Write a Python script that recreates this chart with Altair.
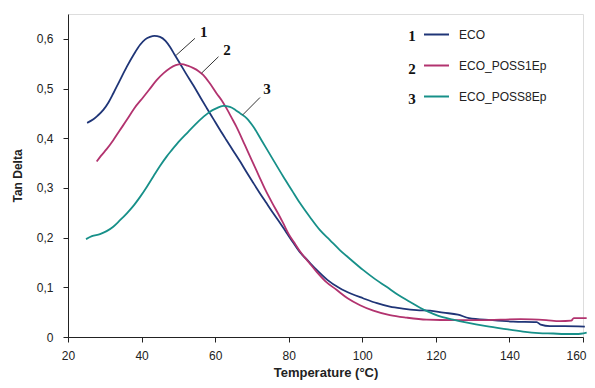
import altair as alt
import pandas as pd

series_names = ["ECO", "ECO_POSS1Ep", "ECO_POSS8Ep"]
series_colors = ["#1f3577", "#b2336f", "#179089"]

eco_T = [25.2, 26.9, 28.0, 29.6, 31.0, 32.3, 34.0, 36.0, 38.0, 39.6, 41.0, 42.3, 43.5, 45.0, 46.5, 47.7,
         49.0, 50.4, 52.0, 54.1, 56.0, 57.7, 59.5, 61.3, 63.0, 64.9, 66.8, 68.6, 70.3, 72.2, 74.0, 75.8,
         77.6, 79.4, 81.2, 83.1, 84.9, 87.6, 90.5, 93.9, 97.0, 100.2, 104.0, 107.5, 111.0, 114.8, 118.4,
         122.0, 126.0, 129.0, 135.0, 141.0, 147.4, 148.5, 151.0, 155.0, 160.5]
eco_v = [0.431, 0.438, 0.445, 0.457, 0.472, 0.490, 0.515, 0.544, 0.570, 0.588, 0.599, 0.604, 0.606, 0.604,
         0.596, 0.584, 0.568, 0.551, 0.531, 0.506, 0.482, 0.461, 0.439, 0.417, 0.397, 0.375, 0.353, 0.331,
         0.311, 0.289, 0.269, 0.249, 0.230, 0.210, 0.190, 0.170, 0.156, 0.135, 0.115, 0.098, 0.087, 0.078,
         0.068, 0.061, 0.057, 0.054, 0.053, 0.049, 0.045, 0.038, 0.034, 0.031, 0.030, 0.025, 0.022, 0.022,
         0.021]

p1_T = [27.8, 29.0, 30.5, 32.3, 34.0, 36.0, 38.0, 40.5, 42.0, 44.1, 46.0, 47.7, 49.3, 50.9, 52.5, 54.1,
        55.5, 56.8, 58.5, 60.4, 61.8, 63.1, 64.5, 65.8, 68.1, 70.0, 71.8, 73.6, 75.5, 77.0, 78.5, 80.0,
        81.5, 83.1, 85.5, 87.6, 90.0, 93.0, 96.0, 99.4, 103.0, 107.5, 112.0, 117.5, 125.0, 132.0, 143.0,
        150.0, 153.7, 156.8, 157.5, 161.0]
p1_v = [0.353, 0.365, 0.378, 0.396, 0.415, 0.437, 0.460, 0.483, 0.497, 0.517, 0.531, 0.541, 0.547, 0.549,
        0.546, 0.541, 0.535, 0.527, 0.511, 0.490, 0.476, 0.460, 0.441, 0.423, 0.386, 0.355, 0.326, 0.297,
        0.270, 0.250, 0.229, 0.207, 0.190, 0.172, 0.150, 0.131, 0.112, 0.095, 0.078, 0.064, 0.053, 0.044,
        0.039, 0.035, 0.034, 0.034, 0.036, 0.034, 0.032, 0.033, 0.038, 0.038]

p8_T = [24.9, 26.5, 28.7, 30.5, 32.3, 34.0, 36.0, 38.0, 39.6, 41.5, 43.2, 45.0, 46.8, 48.2, 50.0, 52.3,
        54.5, 56.8, 58.5, 60.3, 62.2, 64.0, 65.5, 66.8, 68.6, 70.4, 72.6, 75.5, 78.5, 80.8, 83.1, 85.8,
        88.5, 91.2, 93.9, 97.0, 100.2, 103.4, 106.6, 109.7, 112.9, 115.7, 117.9, 120.5, 124.7, 128.5,
        133.7, 138.0, 143.7, 148.0, 151.9, 155.0, 158.2, 161.0]
p8_v = [0.197, 0.203, 0.207, 0.213, 0.222, 0.234, 0.249, 0.266, 0.282, 0.303, 0.323, 0.344, 0.363, 0.376,
        0.392, 0.410, 0.427, 0.443, 0.453, 0.460, 0.465, 0.463, 0.457, 0.450, 0.440, 0.423, 0.396, 0.360,
        0.323, 0.296, 0.269, 0.241, 0.215, 0.195, 0.175, 0.155, 0.135, 0.117, 0.101, 0.085, 0.071, 0.059,
        0.051, 0.043, 0.035, 0.029, 0.022, 0.017, 0.011, 0.008, 0.007, 0.006, 0.006, 0.009]

# curve labels with leader lines (data units)
lab_text = ["1", "2", "3"]
lead_T1 = [49.4, 56.3, 67.5]
lead_v1 = [0.567, 0.531, 0.447]
lead_T2 = [54.5, 60.9, 72.2]
lead_v2 = [0.601, 0.564, 0.482]
lab_T = [56.9, 63.2, 74.1]
lab_v = [0.614, 0.577, 0.500]

# numbers in front of legend entries
legnum_T = [113.5, 113.5, 113.5]
legnum_v = [0.606, 0.539, 0.479]

x_ticks = [20, 40, 60, 80, 100, 120, 140, 160]
y_ticks = [0, 0.1, 0.2, 0.3, 0.4, 0.5, 0.6]

rows = []
for name, Ts, vs in zip(series_names, [eco_T, p1_T, p8_T], [eco_v, p1_v, p8_v]):
    for i, (t, v) in enumerate(zip(Ts, vs)):
        rows.append({"series": name, "T": t, "v": v, "order": i})
df = pd.DataFrame(rows)

lead_df = pd.DataFrame({"T": lead_T1, "v": lead_v1, "T2": lead_T2, "v2": lead_v2})
lab_df = pd.DataFrame({"T": lab_T, "v": lab_v, "label": lab_text})
legnum_df = pd.DataFrame({"T": legnum_T, "v": legnum_v, "label": lab_text})

xscale = alt.Scale(domain=[20, 160], nice=False)
yscale = alt.Scale(domain=[0, 0.65], nice=False)

xaxis = alt.Axis(values=x_ticks, title="Temperature (°C)", grid=False, tickSize=5, labelPadding=8,
                 labelFont="Liberation Sans", labelFontSize=12, labelColor="#222",
                 labelAlign={"condition": {"test": "datum.value == 160", "value": "right"}, "value": "center"},
                 labelOffset={"condition": {"test": "datum.value == 160", "value": 3}, "value": 0},
                 titleFont="Liberation Sans", titleFontSize=13, titleFontWeight="bold", titleColor="#222",
                 titlePadding=5, domainColor="#222", tickColor="#222", labelFlush=False)
yaxis = alt.Axis(values=y_ticks, title="Tan Delta", grid=False, tickSize=5, labelPadding=10,
                 labelExpr="datum.value == 0 ? '0' : replace(format(datum.value, '.1f'), '.', ',')",
                 labelFont="Liberation Sans", labelFontSize=12, labelColor="#222",
                 titleFont="Liberation Sans", titleFontSize=12, titleFontWeight="bold", titleColor="#222",
                 titlePadding=12, domainColor="#222", tickColor="#222")

lines = alt.Chart(df).mark_line(strokeWidth=1.8, interpolate="monotone", clip=False).encode(
    x=alt.X("T:Q", scale=xscale, axis=xaxis),
    y=alt.Y("v:Q", scale=yscale, axis=yaxis),
    color=alt.Color("series:N", scale=alt.Scale(domain=series_names, range=series_colors),
                    legend=alt.Legend(orient="none", legendX=355, legendY=7, title=None,
                                      symbolType="stroke", symbolSize=625, symbolStrokeWidth=2,
                                      labelFont="Liberation Sans", labelFontSize=12, labelColor="#222",
                                      labelOffset=9, rowPadding=11, padding=0)),
    order="order:Q",
)

leaders = alt.Chart(lead_df).mark_rule(color="#333", strokeWidth=1).encode(
    x="T:Q", x2="T2:Q", y="v:Q", y2="v2:Q"
)

labels = alt.Chart(lab_df).mark_text(font="Liberation Serif", fontWeight="bold", fontSize=15,
                                     color="#111", align="center", baseline="middle").encode(
    x="T:Q", y="v:Q", text="label:N"
)

legnums = alt.Chart(legnum_df).mark_text(font="Liberation Serif", fontWeight="bold", fontSize=15,
                                         color="#111", align="center", baseline="middle").encode(
    x="T:Q", y="v:Q", text="label:N"
)

chart = alt.layer(lines, leaders, labels, legnums).properties(
    width=515, height=323,
    padding={"left": 60, "top": 6, "right": 4, "bottom": 43},
    autosize="none",
).configure_view(stroke="#999", strokeWidth=1).configure(background="white")

chart.save("out.html", embed_options={"renderer": "svg", "actions": False})
